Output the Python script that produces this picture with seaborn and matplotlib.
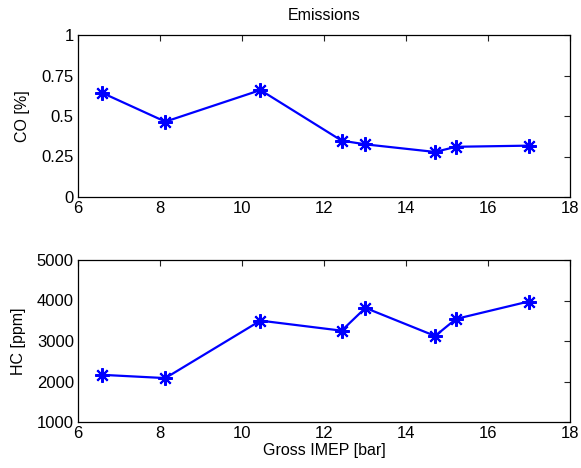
import matplotlib
matplotlib.use("Agg")
import matplotlib.pyplot as plt
import seaborn as sns
import pandas as pd

imep = [6.58, 8.13, 10.45, 12.43, 13.01, 14.71, 15.22, 16.99]
co = [0.644, 0.465, 0.66, 0.348, 0.325, 0.278, 0.31, 0.317]
hc = [2165, 2084, 3503, 3255, 3817, 3124, 3545, 3975]

co_ticks = [0, 0.25, 0.5, 0.75, 1]
co_labels = ["0", "0.25", "0.5", "0.75", "1"]
hc_ticks = [1000, 2000, 3000, 4000, 5000]
x_ticks = [6, 8, 10, 12, 14, 16, 18]

sns.set_style("white")
plt.rcParams['font.family'] = ['Liberation Sans', 'DejaVu Sans']
plt.rcParams['font.size'] = 12
plt.rcParams['text.color'] = 'black'
plt.rcParams['axes.labelcolor'] = 'black'

df = pd.DataFrame({"imep": imep, "co": co, "hc": hc})

fig = plt.figure(figsize=(5.81, 4.68), dpi=100)
ax1 = fig.add_axes([78/581, 1-197/468, (570-78)/581, 162/468])
ax2 = fig.add_axes([78/581, 1-422/468, (570-78)/581, 162/468])

mk = (8, 2, 0)
for ax, col in ((ax1, "co"), (ax2, "hc")):
    sns.lineplot(data=df, x="imep", y=col, ax=ax, color="#0000ff", linewidth=1.6,
                 marker=mk, markersize=10.5, markeredgewidth=1.5,
                 markeredgecolor="#0000ff", estimator=None, sort=False)
    ax.set_xlim(6, 18)
    ax.set_xticks(x_ticks)
    ax.set_xticklabels([str(t) for t in x_ticks])
    ax.tick_params(direction="in", top=True, right=True, length=4, width=0.8,
                   colors="#222222", labelcolor="black", labelsize=12, pad=3)
    for s in ax.spines.values():
        s.set_visible(True)
        s.set_color("black")
        s.set_linewidth(0.9)

ax1.set_ylim(0, 1)
ax1.set_yticks(co_ticks)
ax1.set_yticklabels(co_labels)
ax1.set_xlabel("")
ax1.set_ylabel("CO [%]", fontsize=11.5, labelpad=8, color="black")
ax1.set_title("Emissions", fontsize=11.5, pad=11, color="black")

ax2.set_ylim(1000, 5000)
ax2.set_yticks(hc_ticks)
ax2.set_yticklabels([str(t) for t in hc_ticks])
ax2.set_xlabel("Gross IMEP [bar]", fontsize=11.5, labelpad=1, color="black")
ax2.set_ylabel("HC [ppm]", fontsize=11.5, labelpad=8, color="black")

fig.savefig("out.png", dpi=100)
